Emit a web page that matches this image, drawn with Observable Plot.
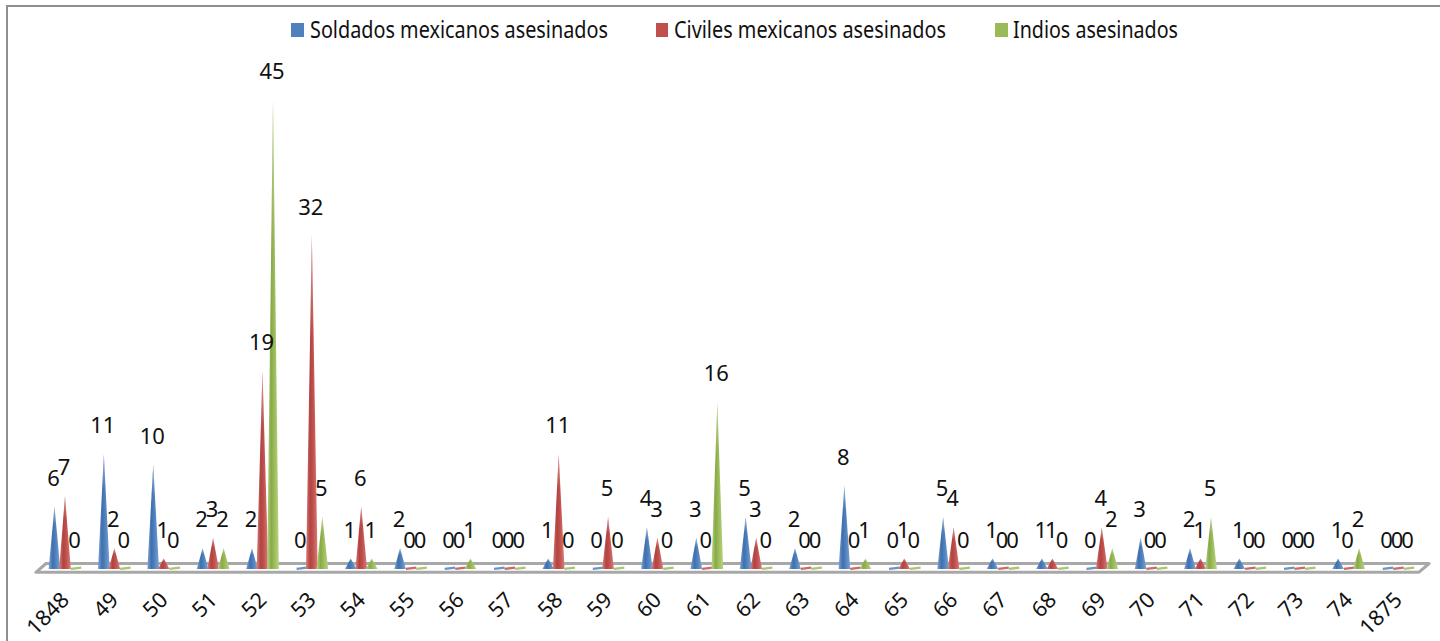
<!DOCTYPE html>
<html lang="es">
<head>
<meta charset="utf-8">
<script src="https://cdn.jsdelivr.net/npm/d3@7"></script>
<script src="https://cdn.jsdelivr.net/npm/@observablehq/plot@0.6"></script>
<style>
  html, body { margin: 0; padding: 0; background: #fff; overflow: hidden; }
  #chart { position: relative; width: 1440px; height: 641px; font-family: "Noto Sans", sans-serif; color: #111; }
  #chart svg.plot { position: absolute; left: 0; top: 0; }
  #frame { position: absolute; left: 6px; top: 5px; right: -4px; bottom: -4px; border: 2.5px solid #8f8f8f; }
  .swatch { position: absolute; top: 23px; width: 12.5px; height: 13.5px; }
  .entry { position: absolute; top: 13px; font-size: 24px; line-height: 32px; white-space: nowrap; transform-origin: 0 50%; }
</style>
</head>
<body>
<div id="chart"><div id="frame"></div></div>
<script>
// Muertes por año en la frontera, 1848-1875
const years = ["1848","49","50","51","52","53","54","55","56","57","58","59","60","61","62","63","64","65","66","67","68","69","70","71","72","73","74","1875"];
const soldados = [6,11,10,2,2,0,1,2,0,0,1,0,4,3,5,2,8,0,5,1,1,0,3,2,1,0,1,0];
const civiles  = [7,2,1,3,19,32,6,0,0,0,11,5,3,0,3,0,0,1,4,0,1,4,0,1,0,0,0,0];
const indios   = [0,0,0,2,45,5,1,0,1,0,0,0,0,16,0,0,1,0,0,0,0,2,0,5,0,0,2,0];

const seriesNames = ["Soldados mexicanos asesinados", "Civiles mexicanos asesinados", "Indios asesinados"];
const seriesValues = [soldados, civiles, indios];
const seriesColors = ["#4f81bd", "#c0504d", "#9bbb59"];
const seriesDark = ["#3f70ad", "#b04340", "#87aa48"];
const seriesLight = ["#7ba3d6", "#d97d7a", "#b9d382"];
const gradientIds = ["cono-azul", "cono-rojo", "cono-verde"];

// Separación de las series dentro de cada año y semiancho de la base del cono
const seriesOffset = [-0.213, 0, 0.213];
const halfWidth = 0.118;

const records = seriesValues.flatMap((values, s) =>
  values.map((value, i) => ({series: s, year: i, value, x: i + seriesOffset[s]}))
);
const cones = records.filter((d) => d.value > 0).flatMap((d) => [
  {...d, id: `${d.series}-${d.year}`, px: d.x - halfWidth, py: 0},
  {...d, id: `${d.series}-${d.year}`, px: d.x, py: d.value},
  {...d, id: `${d.series}-${d.year}`, px: d.x + halfWidth, py: 0}
]);
const flats = records.filter((d) => d.value === 0);

// Plataforma en perspectiva sobre la que descansan los conos
const floorX = [-0.6, -0.395, 27.62, 27.41];
const floorY = [-0.27, 0.576, 0.576, -0.27];
const floor = floorX.map((x, i) => ({x, y: floorY[i]}));

const coneMarks = seriesValues.map((_, s) =>
  Plot.areaY(cones.filter((d) => d.series === s), {
    x: "px", y: "py", z: "id", fill: `url(#${gradientIds[s]})`, curve: "linear"
  })
);
const fadeMark = Plot.areaY(cones, {x: "px", y: "py", z: "id", fill: "url(#punta)", curve: "linear"});

const chart = Plot.plot({
  width: 1440,
  height: 641,
  marginLeft: 65,
  marginRight: 42,
  marginTop: 100,
  marginBottom: 72,
  style: {background: "transparent", fontFamily: "'Noto Sans', sans-serif", color: "#111"},
  x: {domain: [0, 27], axis: null},
  y: {domain: [0, 45], axis: null},
  marks: [
    Plot.line(floor, {x: "x", y: "y", curve: "linear-closed", stroke: "#a8a8a8", strokeWidth: 3, fill: "#fff"}),
    ...seriesValues.map((_, s) =>
      Plot.link(flats.filter((d) => d.series === s), {
        x1: (d) => d.x - halfWidth * 0.9, x2: (d) => d.x + halfWidth * 0.9,
        y1: 0.06, y2: 0.18, stroke: seriesColors[s], strokeWidth: 2.4, strokeOpacity: 0.85
      })
    ),
    ...coneMarks,
    fadeMark,
    Plot.text(records, {
      x: "x", y: "value", text: (d) => String(d.value),
      dy: -28.5, dx: -1.5, fontSize: 22, fill: "#111"
    }),
    Plot.axisX({
      ticks: d3.range(years.length),
      tickFormat: (i) => years[i],
      tickSize: 0,
      tickPadding: 27,
      tickRotate: -45,
      fontSize: 21.5,
      label: null,
      fill: "#111"
    })
  ]
});

// Degradados de los conos: sombreado lateral y punta desvanecida
const svgNS = "http://www.w3.org/2000/svg";
const defs = document.createElementNS(svgNS, "defs");
const addGradient = (id, attrs, stops) => {
  const g = document.createElementNS(svgNS, "linearGradient");
  g.setAttribute("id", id);
  for (const [k, v] of Object.entries(attrs)) g.setAttribute(k, v);
  for (const [offset, color, opacity] of stops) {
    const st = document.createElementNS(svgNS, "stop");
    st.setAttribute("offset", offset);
    st.setAttribute("stop-color", color);
    st.setAttribute("stop-opacity", opacity);
    g.appendChild(st);
  }
  defs.appendChild(g);
};
gradientIds.forEach((id, s) => addGradient(id, {x1: 0, y1: 0, x2: 1, y2: 0}, [
  [0, seriesLight[s], 1], [0.35, seriesDark[s], 1], [0.6, seriesColors[s], 1], [1, seriesLight[s], 1]
]));
addGradient("punta", {x1: 0, y1: 0, x2: 0, y2: 1}, [[0, "#fff", 0.45], [0.3, "#fff", 0]]);
chart.prepend(defs);

const root = document.getElementById("chart");
root.appendChild(chart);

// Leyenda superior, superpuesta al gráfico
const swatchLeft = [291, 655.5, 995];
const entryLeft = [310, 674, 1013];
const entryWidth = [298, 272, 165];
seriesNames.forEach((name, s) => {
  const sw = document.createElement("div");
  sw.className = "swatch";
  sw.style.left = swatchLeft[s] + "px";
  sw.style.background = seriesColors[s];
  root.appendChild(sw);
  const label = document.createElement("div");
  label.className = "entry";
  label.textContent = name;
  label.style.left = entryLeft[s] + "px";
  root.appendChild(label);
  label.style.transform = `scaleX(${entryWidth[s] / label.getBoundingClientRect().width})`;
});
</script>
</body>
</html>
